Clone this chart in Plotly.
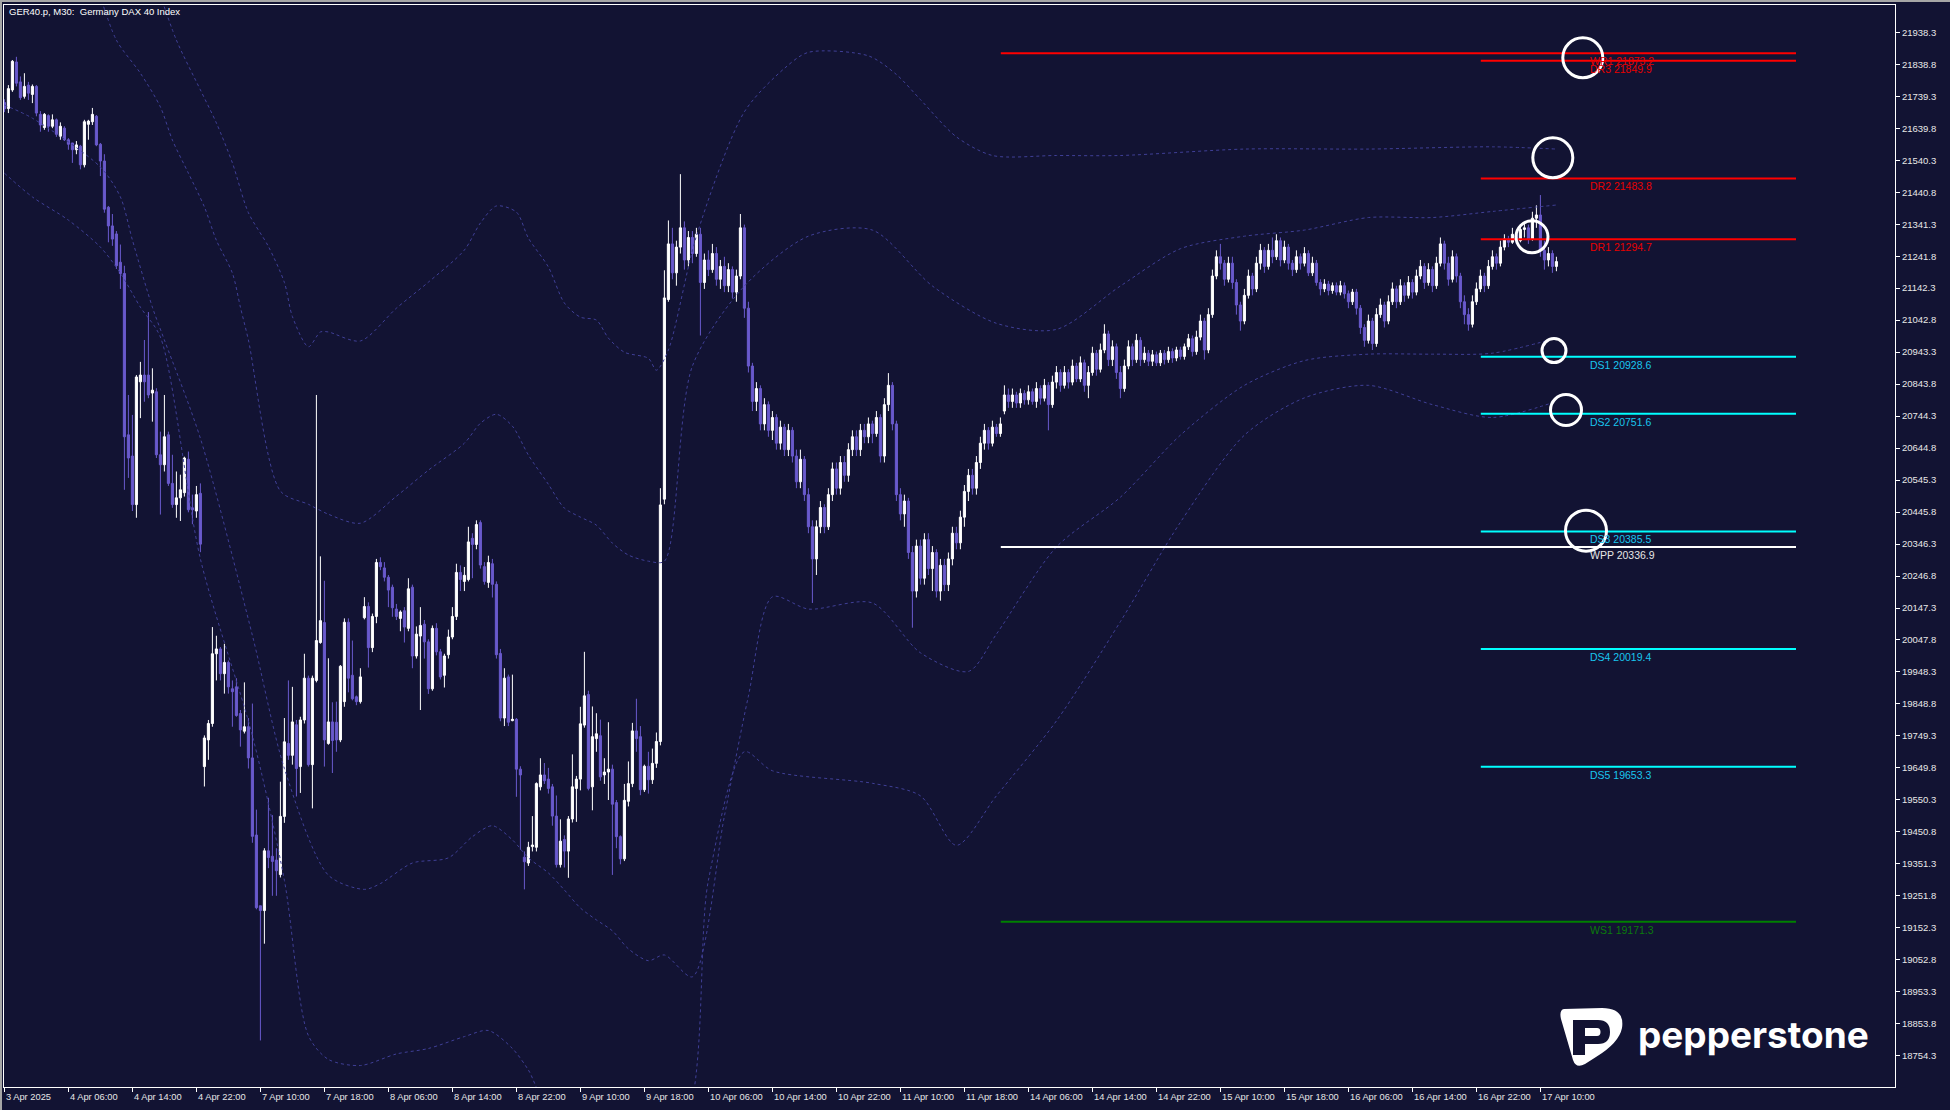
import plotly.graph_objects as go

W, H = 1950, 1110
ML, MR, MT, MB = 4, 55, 5, 23
PW, PH = W - ML - MR, H - MT - MB

BG = "#121333"
BULL = "#ffffff"
BEAR = "#6a5acd"
BAND = "#3f3f96"

# ---- M30 candles, bar index 0..388 ----
opens = [
    21720, 21701, 21759, 21846, 21784, 21739, 21774, 21745, 21770, 21683,
    21642, 21679, 21646, 21666, 21615, 21640, 21604, 21594, 21573, 21584,
    21526, 21652, 21660, 21677, 21590, 21538, 21394, 21336, 21311, 21223,
    21188, 20686, 20620, 20469, 20851, 20872, 20872, 20816, 20820, 20624,
    20593, 20686, 20535, 20469, 20490, 20506, 20610, 20459, 20449, 20504,
    19654, 19737, 19788, 20005, 20020, 19943, 19978, 19896, 19902, 19819,
    19764, 19778, 19681, 19441, 19221, 19206, 19392, 19375, 19363, 19318,
    19499, 19726, 19689, 19784, 19654, 19799, 19929, 19660, 19922, 20040,
    20102, 19726, 19793, 19792, 19737, 19856, 20103, 19938, 19871, 19856,
    20117, 20152, 20024, 20121, 20289, 20272, 20243, 20212, 20144, 20115,
    20139, 20084, 20212, 19998, 20060, 20097, 20042, 19896, 20084, 20011,
    19938, 20002, 20057, 20121, 20258, 20230, 20236, 20364, 20345, 20413,
    20276, 20227, 20285, 20221, 20006, 19805, 19933, 19797, 19801, 19646,
    19372, 19354, 19405, 19403, 19591, 19628, 19615, 19591, 19500, 19349,
    19427, 19391, 19491, 19586, 19615, 19783, 19878, 19591, 19741, 19750,
    19628, 19637, 19646, 19542, 19436, 19367, 19546, 19601, 19765, 19747,
    19582, 19655, 19613, 19664, 19732, 20486, 21107, 21280, 21190, 21270,
    21330, 21230, 21300, 21250, 21310, 21160, 21230, 21200, 21250, 21170,
    21210, 21150, 21200, 21130, 21180, 21330, 21080, 20900, 20790, 20830,
    20720, 20780, 20700, 20740, 20660, 20710, 20640, 20700, 20620, 20540,
    20610, 20500, 20400, 20300, 20400, 20460, 20400, 20500, 20580, 20520,
    20600, 20560, 20640, 20680, 20640, 20700, 20680, 20720, 20690, 20740,
    20620, 20780, 20840, 20720, 20500, 20440, 20480, 20320, 20200, 20340,
    20240, 20360, 20270, 20320, 20200, 20280, 20220, 20300, 20380, 20350,
    20430, 20510, 20560, 20520, 20600, 20660, 20700, 20660, 20710, 20690,
    20760, 20810, 20790, 20810, 20785, 20815, 20795, 20820, 20790, 20830,
    20800, 20840, 20780, 20850, 20880, 20840, 20880, 20850, 20900, 20860,
    20910, 20840, 20880, 20940, 20890, 20950, 21000, 20920, 20960, 20880,
    20830, 20900, 20960, 20920, 20980, 20920, 20940, 20915, 20935, 20910,
    20940, 20920, 20945, 20925, 20950, 20930, 20960, 20985, 20945, 20990,
    21040, 20950, 21060, 21180, 21240, 21220, 21170, 21220, 21160, 21090,
    21040, 21120, 21180, 21140, 21220, 21260, 21210, 21260, 21240, 21290,
    21230, 21270, 21220, 21200, 21240, 21220, 21250, 21190, 21220, 21160,
    21140, 21155, 21135, 21150, 21130, 21150, 21125, 21100, 21130, 21080,
    21020, 20980, 21040, 20970, 21060, 21090, 21040, 21100, 21140, 21100,
    21150, 21120, 21160, 21130, 21180, 21210, 21160, 21200, 21150, 21220,
    21280, 21220, 21170, 21240, 21180, 21100, 21060, 21030, 21100, 21140,
    21180, 21150, 21210, 21240, 21220, 21270, 21295, 21285, 21310, 21290,
    21325, 21330, 21295, 21360, 21370, 21260, 21230, 21250, 21210,
]
highs = [
    21730, 21774, 21852, 21862, 21801, 21811, 21784, 21776, 21774, 21693,
    21687, 21683, 21683, 21670, 21658, 21646, 21609, 21594, 21600, 21588,
    21666, 21666, 21703, 21681, 21594, 21559, 21398, 21373, 21320, 21278,
    21212, 20810, 20748, 20872, 20913, 20981, 21068, 20893, 20831, 20696,
    20810, 20696, 20624, 20572, 20562, 20618, 20634, 20500, 20527, 20535,
    19751, 19799, 20088, 20061, 20026, 20036, 19984, 19922, 19929, 19830,
    19916, 19805, 19850, 19520, 19221, 19400, 19557, 19503, 19400, 19607,
    19805, 19922, 19902, 19799, 19809, 20005, 19937, 19937, 20810, 20308,
    20232, 19991, 19854, 19856, 19970, 20115, 20115, 20046, 19875, 19960,
    20181, 20165, 20130, 20300, 20305, 20290, 20250, 20220, 20160, 20140,
    20150, 20240, 20220, 20090, 20150, 20110, 20050, 20093, 20100, 20020,
    20005, 20080, 20150, 20285, 20280, 20275, 20400, 20380, 20420, 20420,
    20290, 20310, 20300, 20230, 20020, 19960, 19940, 19940, 19805, 19655,
    19390, 19420, 19500, 19605, 19680, 19665, 19650, 19600, 19564, 19490,
    19440, 19500, 19692, 19625, 19840, 20011, 19890, 19841, 19820, 19800,
    19680, 19792, 19660, 19550, 19440, 19600, 19670, 19790, 19865, 19780,
    19660, 19700, 19710, 19760, 20520, 21198, 21353, 21330, 21290, 21497,
    21350, 21320, 21320, 21330, 21330, 21250, 21260, 21280, 21270, 21230,
    21240, 21220, 21210, 21200, 21373, 21340, 21100, 20910, 20850, 20840,
    20800, 20790, 20760, 20750, 20730, 20720, 20720, 20710, 20640, 20640,
    20620, 20520, 20420, 20420, 20480, 20470, 20520, 20600, 20600, 20620,
    20620, 20660, 20700, 20700, 20720, 20720, 20740, 20730, 20760, 20750,
    20800, 20878, 20850, 20730, 20520, 20500, 20490, 20340, 20360, 20360,
    20380, 20380, 20340, 20330, 20300, 20300, 20320, 20400, 20400, 20450,
    20530, 20580, 20580, 20620, 20680, 20720, 20710, 20730, 20720, 20740,
    20840, 20830, 20830, 20820, 20830, 20825, 20840, 20830, 20850, 20840,
    20860, 20850, 20870, 20900, 20890, 20900, 20890, 20920, 20910, 20930,
    20920, 20900, 20960, 20950, 20970, 21030, 21010, 20980, 20970, 20900,
    20920, 20980, 20970, 21000, 20990, 20960, 20950, 20950, 20945, 20950,
    20950, 20960, 20955, 20960, 20960, 20970, 21000, 20995, 21010, 21060,
    21050, 21080, 21200, 21260, 21280, 21230, 21240, 21240, 21170, 21100,
    21140, 21200, 21190, 21240, 21280, 21270, 21280, 21300, 21310, 21300,
    21290, 21280, 21230, 21260, 21250, 21270, 21260, 21240, 21230, 21170,
    21170, 21165, 21160, 21160, 21165, 21160, 21135, 21140, 21140, 21090,
    21030, 21060, 21050, 21080, 21110, 21100, 21120, 21160, 21150, 21170,
    21160, 21180, 21170, 21200, 21230, 21220, 21220, 21210, 21240, 21300,
    21290, 21240, 21260, 21250, 21190, 21120, 21080, 21120, 21160, 21200,
    21190, 21230, 21260, 21250, 21290, 21310, 21305, 21330, 21320, 21340,
    21345, 21340, 21380, 21400, 21432, 21290, 21270, 21260, 21240,
]
lows = [
    21690, 21687, 21753, 21770, 21728, 21732, 21728, 21718, 21677, 21629,
    21635, 21629, 21640, 21613, 21604, 21600, 21573, 21532, 21559, 21512,
    21518, 21604, 21650, 21584, 21491, 21377, 21285, 21274, 21202, 21140,
    20515, 20552, 20449, 20428, 20738, 20789, 20800, 20727, 20614, 20438,
    20572, 20527, 20459, 20428, 20418, 20494, 20445, 20408, 20428, 20321,
    19592, 19675, 19778, 19922, 19922, 19881, 19881, 19778, 19809, 19716,
    19757, 19648, 19417, 19210, 18802, 19103, 19338, 19252, 19252, 19309,
    19479, 19675, 19660, 19561, 19572, 19788, 19654, 19524, 19916, 20036,
    19654, 19722, 19634, 19700, 19730, 19840, 19885, 19860, 19845, 19850,
    20112, 19962, 20010, 20100, 20265, 20230, 20150, 20120, 20110, 20075,
    20040, 20075, 19960, 19990, 19830, 19990, 19880, 19890, 20000, 19925,
    19900, 19990, 20050, 20110, 20200, 20200, 20230, 20240, 20330, 20270,
    20220, 20210, 20180, 19990, 19795, 19780, 19780, 19795, 19560, 19395,
    19272, 19345, 19390, 19390, 19580, 19600, 19570, 19470, 19340, 19340,
    19340, 19308, 19480, 19482, 19580, 19775, 19580, 19518, 19700, 19610,
    19600, 19550, 19317, 19400, 19350, 19360, 19530, 19590, 19700, 19565,
    19575, 19570, 19600, 19650, 19720, 20470, 21100, 21170, 21150, 21250,
    21200, 21210, 21220, 21240, 20995, 21140, 21180, 21190, 21150, 21140,
    21130, 21130, 21110, 21100, 21170, 21050, 20880, 20760, 20760, 20700,
    20700, 20680, 20670, 20640, 20640, 20620, 20620, 20600, 20520, 20520,
    20480, 20380, 20163, 20250, 20380, 20380, 20390, 20480, 20500, 20500,
    20540, 20540, 20620, 20620, 20620, 20660, 20660, 20660, 20680, 20600,
    20600, 20760, 20700, 20480, 20420, 20400, 20300, 20086, 20180, 20220,
    20220, 20250, 20200, 20180, 20170, 20200, 20200, 20280, 20330, 20330,
    20400, 20480, 20500, 20500, 20580, 20640, 20640, 20650, 20680, 20680,
    20750, 20770, 20770, 20770, 20770, 20780, 20780, 20780, 20770, 20780,
    20790, 20700, 20770, 20830, 20820, 20830, 20830, 20840, 20850, 20850,
    20820, 20800, 20870, 20870, 20880, 20940, 20900, 20900, 20860, 20800,
    20820, 20890, 20900, 20910, 20900, 20910, 20900, 20900, 20900, 20900,
    20905, 20910, 20910, 20915, 20920, 20920, 20950, 20930, 20935, 20980,
    20920, 20940, 21050, 21170, 21200, 21150, 21160, 21140, 21060, 21010,
    21030, 21110, 21120, 21130, 21200, 21190, 21200, 21220, 21230, 21210,
    21220, 21200, 21180, 21190, 21200, 21210, 21180, 21180, 21150, 21120,
    21130, 21120, 21125, 21120, 21120, 21110, 21080, 21090, 21060, 21000,
    20960, 20970, 20950, 20960, 21050, 21020, 21030, 21090, 21080, 21090,
    21100, 21110, 21110, 21120, 21170, 21140, 21150, 21130, 21140, 21210,
    21200, 21150, 21160, 21160, 21080, 21030, 21010, 21020, 21090, 21130,
    21130, 21140, 21200, 21200, 21210, 21260, 21270, 21280, 21280, 21285,
    21300, 21280, 21290, 21330, 21240, 21200, 21210, 21190, 21195,
]
closes = [
    21700, 21763, 21848, 21780, 21735, 21770, 21749, 21770, 21687, 21650,
    21683, 21646, 21666, 21621, 21646, 21604, 21590, 21573, 21588, 21526,
    21660, 21662, 21683, 21588, 21538, 21388, 21336, 21295, 21212, 21188,
    20680, 20614, 20469, 20866, 20872, 20851, 20810, 20825, 20624, 20593,
    20680, 20535, 20469, 20490, 20515, 20614, 20453, 20453, 20500, 20346,
    19743, 19788, 20005, 20020, 19943, 19978, 19902, 19887, 19813, 19768,
    19778, 19681, 19437, 19215, 19206, 19392, 19371, 19359, 19330, 19499,
    19731, 19689, 19793, 19648, 19799, 19929, 19660, 19929, 20046, 20108,
    19737, 19793, 19735, 19737, 19966, 20103, 19929, 19865, 19856, 19933,
    20152, 20024, 20121, 20289, 20276, 20243, 20203, 20148, 20121, 20135,
    20088, 20207, 19998, 20066, 20093, 20042, 19896, 20084, 20011, 19933,
    19998, 20057, 20121, 20258, 20236, 20249, 20353, 20345, 20407, 20281,
    20230, 20289, 20221, 20002, 19805, 19929, 19792, 19801, 19646, 19628,
    19358, 19403, 19410, 19601, 19628, 19610, 19586, 19500, 19349, 19422,
    19391, 19491, 19591, 19615, 19787, 19874, 19586, 19747, 19756, 19622,
    19637, 19646, 19537, 19436, 19367, 19549, 19601, 19765, 19741, 19582,
    19655, 19613, 19664, 19732, 20468, 21112, 21280, 21190, 21270, 21330,
    21230, 21300, 21250, 21310, 21160, 21230, 21200, 21250, 21170, 21210,
    21150, 21200, 21130, 21180, 21330, 21080, 20900, 20790, 20830, 20720,
    20780, 20700, 20740, 20660, 20710, 20640, 20700, 20620, 20540, 20610,
    20500, 20400, 20300, 20400, 20460, 20400, 20500, 20580, 20520, 20600,
    20560, 20640, 20680, 20640, 20700, 20680, 20720, 20690, 20740, 20620,
    20780, 20840, 20720, 20500, 20440, 20480, 20320, 20200, 20340, 20240,
    20360, 20270, 20320, 20200, 20280, 20220, 20300, 20380, 20350, 20430,
    20510, 20560, 20520, 20600, 20660, 20700, 20660, 20710, 20690, 20720,
    20810, 20790, 20810, 20785, 20815, 20795, 20820, 20790, 20830, 20800,
    20840, 20780, 20850, 20880, 20840, 20880, 20850, 20900, 20860, 20910,
    20840, 20880, 20940, 20890, 20950, 21000, 20920, 20960, 20880, 20830,
    20900, 20960, 20920, 20980, 20920, 20940, 20915, 20935, 20910, 20940,
    20920, 20945, 20925, 20950, 20930, 20960, 20985, 20945, 20990, 21040,
    20950, 21060, 21180, 21240, 21220, 21170, 21220, 21160, 21090, 21040,
    21120, 21180, 21140, 21220, 21260, 21210, 21260, 21240, 21290, 21230,
    21270, 21220, 21200, 21240, 21220, 21250, 21190, 21220, 21160, 21140,
    21155, 21135, 21150, 21130, 21150, 21125, 21100, 21130, 21080, 21020,
    20980, 21040, 20970, 21060, 21090, 21040, 21100, 21140, 21100, 21150,
    21120, 21160, 21130, 21180, 21210, 21160, 21200, 21150, 21220, 21280,
    21220, 21170, 21240, 21180, 21100, 21060, 21030, 21100, 21140, 21180,
    21150, 21210, 21240, 21220, 21270, 21295, 21285, 21310, 21290, 21325,
    21330, 21295, 21360, 21370, 21260, 21230, 21250, 21210, 21225,
]

# ---- dotted envelope bands (bar index, price) ----
u2_bars = [38, 43, 49, 53, 57, 61, 66, 70, 72, 76, 79, 81, 89, 98, 106, 115, 119, 123, 128, 131,
           136, 140, 144, 148, 151, 155, 161, 163, 166, 173, 185, 195, 201, 216, 223, 229, 238, 247, 263, 279,
           310, 341, 372, 388]
u2_vals = [22090, 21914, 21759, 21656, 21532, 21377, 21272, 21160, 21054, 20960, 21006, 21006, 20978, 21080, 21161, 21261, 21345, 21398, 21379, 21298,
           21208, 21096, 21052, 21043, 20987, 20943, 20924, 20887, 20950, 21304, 21691, 21826, 21876, 21865, 21807, 21729, 21613, 21555, 21555, 21555,
           21575, 21575, 21582, 21575]
u1_bars = [23, 28, 34, 39, 42, 46, 50, 53, 57, 59, 61, 69, 76, 81, 89, 98, 106, 115, 119, 123,
           127, 131, 136, 140, 144, 148, 152, 156, 161, 165, 172, 185, 201, 217, 232, 248, 263, 279, 294, 310,
           325, 341, 357, 372, 388]
u1_vals = [22090, 21914, 21811, 21706, 21603, 21500, 21395, 21291, 21189, 21083, 20981, 20511, 20470, 20439, 20411, 20495, 20576, 20660, 20722, 20750,
           20713, 20623, 20532, 20458, 20430, 20405, 20349, 20312, 20293, 20293, 20900, 21149, 21304, 21323, 21149, 21033, 21014, 21149, 21265, 21304,
           21323, 21362, 21362, 21381, 21401]
l1_bars = [0, 7, 24, 29, 32, 37, 40, 49, 62, 70, 81, 90, 94, 102, 111, 117, 122, 127, 131, 136,
           140, 144, 148, 152, 156, 161, 165, 172, 180, 186, 192, 201, 217, 229, 241, 248, 263, 279, 294, 310,
           325, 341, 357, 372, 388]
l1_vals = [21712, 21671, 21519, 21426, 21292, 21083, 20981, 20675, 20062, 19648, 19316, 19272, 19290, 19354, 19370, 19436, 19470, 19426, 19370, 19323,
           19270, 19214, 19177, 19143, 19087, 19050, 19068, 19000, 19500, 19873, 20182, 20144, 20163, 20008, 19950, 20066, 20337, 20492, 20685, 20840,
           20917, 20937, 20937, 20940, 20987]
l2_bars = [0, 7, 16, 24, 29, 34, 39, 49, 62, 70, 76, 81, 89, 98, 106, 115, 121, 127, 131, 136,
           168, 176, 185, 192, 217, 229, 238, 248, 263, 279, 294, 310, 325, 341, 357, 372, 388]
l2_vals = [21500, 21426, 21354, 21270, 21189, 21083, 20990, 20300, 19750, 19300, 18817, 18743, 18724, 18760, 18777, 18814, 18833, 18777, 18710, 18600,
           18500, 19300, 19700, 19641, 19602, 19563, 19409, 19563, 19796, 20105, 20414, 20685, 20801, 20840, 20780, 20740, 20790]

# ---- pivot levels ----
level_names = ["WR1", "DR3", "DR2", "DR1", "DS1", "DS2", "DS3", "WPP", "DS4", "DS5", "WS1"]
level_values = [21873.2, 21849.9, 21483.8, 21294.7, 20928.6, 20751.6, 20385.5, 20336.9, 20019.4, 19653.3, 19171.3]
level_weekly = [True, False, False, False, False, False, False, True, False, False, True]
level_kind = ["r", "r", "r", "r", "s", "s", "s", "p", "s", "s", "w"]

# ---- analyst circles (bar, price, radius px) ----
circle_bars = [394.6, 387.1, 381.9, 387.4, 390.4, 395.4]
circle_prices = [21859, 21548, 21302, 20948, 20763, 20388]
circle_radius = [20, 20, 16, 12, 15.5, 20.5]

# ---- axes ----
tick_bars = [0, 16, 32, 48, 64, 80, 96, 112, 128, 144, 160, 176, 192, 208, 224, 240, 256, 272, 288, 304, 320, 336, 352, 368, 384]
tick_text = ["3 Apr 2025", "4 Apr 06:00", "4 Apr 14:00", "4 Apr 22:00", "7 Apr 10:00", "7 Apr 18:00",
             "8 Apr 06:00", "8 Apr 14:00", "8 Apr 22:00", "9 Apr 10:00", "9 Apr 18:00", "10 Apr 06:00",
             "10 Apr 14:00", "10 Apr 22:00", "11 Apr 10:00", "11 Apr 18:00", "14 Apr 06:00", "14 Apr 14:00",
             "14 Apr 22:00", "15 Apr 10:00", "15 Apr 18:00", "16 Apr 06:00", "16 Apr 14:00", "16 Apr 22:00",
             "17 Apr 10:00"]
price_ticks = [21938.3, 21838.8, 21739.3, 21639.8, 21540.3, 21440.8, 21341.3, 21241.8, 21142.3, 21042.8, 20943.3,
               20843.8, 20744.3, 20644.8, 20545.3, 20445.8, 20346.3, 20246.8, 20147.3, 20047.8, 19948.3, 19848.8,
               19749.3, 19649.8, 19550.3, 19450.8, 19351.3, 19251.8, 19152.3, 19052.8, 18953.3, 18853.8, 18754.3]

KIND_LINE = {"r": "#ff0000", "s": "#00ffff", "p": "#ffffff", "w": "#008000"}
KIND_TEXT = {"r": "#e80000", "s": "#19c6ee", "p": "#e6e6e6", "w": "#0b7a0b"}
WEEK_START, DAY_START, LEVEL_END, LABEL_BAR = 249.1, 369.1, 447.9, 395.9


def px(x):
    return (x - ML) / PW


def py(y):
    return 1 - (y - MT) / PH


def pt(x, y):
    return f"{px(x):.5f},{py(y):.5f}"


fig = go.Figure()

for bx, by in [(u2_bars, u2_vals), (u1_bars, u1_vals), (l1_bars, l1_vals), (l2_bars, l2_vals)]:
    fig.add_scatter(x=bx, y=by, mode="lines", hoverinfo="skip", showlegend=False,
                    line=dict(color=BAND, width=1, dash="3px,3px", shape="spline", smoothing=0.8))

fig.add_candlestick(
    x=list(range(len(opens))), open=opens, high=highs, low=lows, close=closes,
    increasing=dict(line=dict(color=BULL, width=1), fillcolor=BULL),
    decreasing=dict(line=dict(color=BEAR, width=1), fillcolor=BEAR),
    whiskerwidth=0, hoverinfo="skip", showlegend=False,
)

shapes = []
annotations = []

for name, val, weekly, kind in zip(level_names, level_values, level_weekly, level_kind):
    shapes.append(dict(type="line", xref="x", yref="y", x0=WEEK_START if weekly else DAY_START, x1=LEVEL_END,
                       y0=val, y1=val, line=dict(color=KIND_LINE[kind], width=2)))
    annotations.append(dict(x=LABEL_BAR, y=val, xref="x", yref="y", text=f"{name} {val:.1f}", showarrow=False,
                            xanchor="left", yanchor="top", yshift=0,
                            font=dict(family="Liberation Sans, Arial", size=10.5, color=KIND_TEXT[kind])))

for cb, cp, r in zip(circle_bars, circle_prices, circle_radius):
    shapes.append(dict(type="circle", xref="x", yref="y", xsizemode="pixel", ysizemode="pixel",
                       xanchor=cb, yanchor=cp, x0=-r, x1=r, y0=-r, y1=r,
                       line=dict(color="#ffffff", width=3)))

for tb, tt in zip(tick_bars, tick_text):
    annotations.append(dict(x=tb, y=0, xref="x", yref="paper", text=tt, showarrow=False,
                            xanchor="left", yanchor="top", xshift=0, yshift=-3,
                            font=dict(family="Liberation Sans Narrow, Liberation Sans, Arial", size=9.3, color="#e6e6e6")))

annotations.append(dict(x=px(7), y=py(12), xref="paper", yref="paper", showarrow=False,
                        text="GER40.p, M30:\u00a0 Germany DAX 40 Index", xanchor="left", yanchor="middle",
                        font=dict(family="Liberation Sans, Arial", size=9.5, color="#ffffff")))

# window border
shapes.append(dict(type="rect", xref="paper", yref="paper", x0=px(0), x1=px(W), y0=py(0), y1=py(2),
                   fillcolor="#a6a6a6", line=dict(width=0), layer="above"))
shapes.append(dict(type="rect", xref="paper", yref="paper", x0=px(0), x1=px(2), y0=py(0), y1=py(H),
                   fillcolor="#a6a6a6", line=dict(width=0), layer="above"))

# pepperstone logo
logo_outer = (f"M {pt(1564,1009)} L {pt(1602,1008)} Q {pt(1625,1008)} {pt(1622,1028)} "
              f"Q {pt(1619,1043)} {pt(1596,1057)} L {pt(1585,1064)} Q {pt(1576,1069)} {pt(1573,1060)} "
              f"L {pt(1561,1019)} Q {pt(1559,1010)} {pt(1564,1009)} Z")
logo_p = (f"M {pt(1573,1020)} L {pt(1598,1020)} Q {pt(1610,1020)} {pt(1610,1032)} "
          f"Q {pt(1610,1044)} {pt(1598,1044)} L {pt(1585,1044)} L {pt(1585,1055)} L {pt(1573,1055)} Z")
logo_hole = (f"M {pt(1585,1028)} L {pt(1597,1028)} Q {pt(1600.5,1028)} {pt(1600.5,1032)} "
             f"Q {pt(1600.5,1036)} {pt(1597,1036)} L {pt(1585,1036)} Z")
for p, col in [(logo_outer, "#ffffff"), (logo_p, BG), (logo_hole, "#ffffff")]:
    shapes.append(dict(type="path", xref="paper", yref="paper", path=p, fillcolor=col, line=dict(width=0)))
annotations.append(dict(x=px(1636), y=py(1034), xref="paper", yref="paper", showarrow=False, text="pepperstone",
                        xanchor="left", yanchor="middle",
                        font=dict(family="Inter, Lato, sans-serif", size=37, color="#ffffff", weight=700)))

fig.update_layout(
    width=W, height=H,
    margin=dict(l=ML, r=MR, t=MT, b=MB),
    paper_bgcolor=BG, plot_bgcolor=BG,
    showlegend=False, hovermode=False,
    boxgap=0.25,
    shapes=shapes, annotations=annotations,
    xaxis=dict(range=[-0.1, 472.65], showgrid=False, zeroline=False, showline=True, linecolor="#ffffff",
               linewidth=1, mirror=True, tickvals=tick_bars, ticks="outside", ticklen=4, tickcolor="#ffffff",
               showticklabels=False, rangeslider=dict(visible=False), fixedrange=True),
    yaxis=dict(range=[18657.2, 22023.2], side="right", showgrid=False, zeroline=False, showline=True,
               linecolor="#ffffff", linewidth=1, mirror=True, tickvals=price_ticks,
               ticktext=[f"{v:.1f}" for v in price_ticks], ticks="outside", ticklen=4, tickcolor="#ffffff",
               tickfont=dict(family="Liberation Sans, Arial", size=9.5, color="#e8e8e8"), fixedrange=True),
)

fig.write_html("out.html", config={"displayModeBar": False},
               post_script="document.body.style.margin='0';document.body.style.background='" + BG + "';")
